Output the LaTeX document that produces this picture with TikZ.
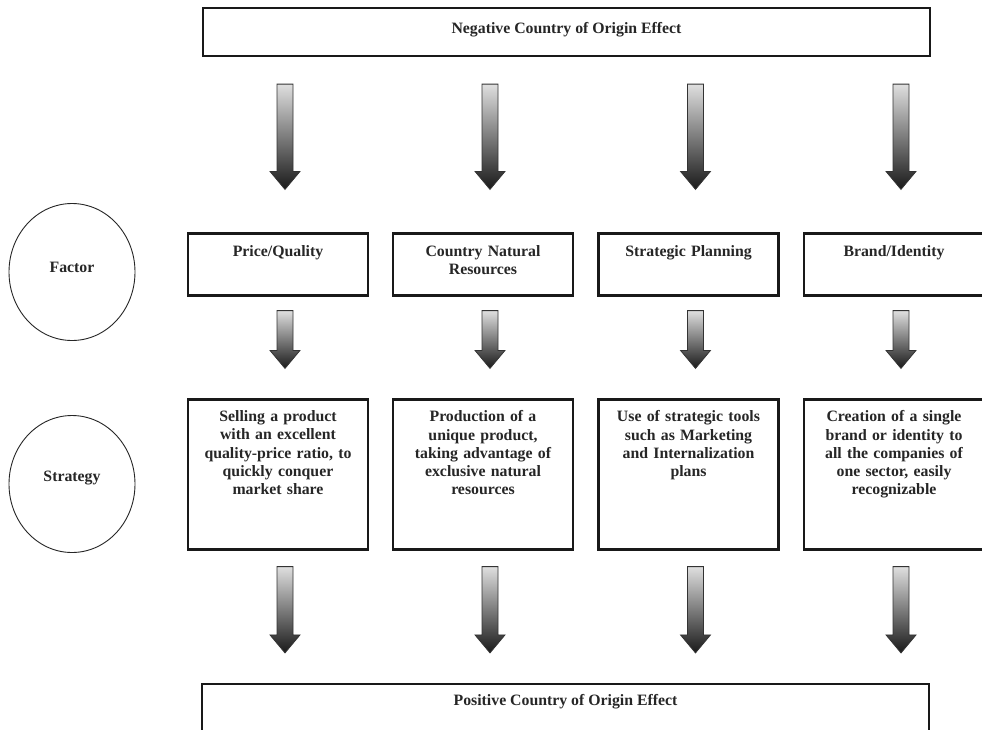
\documentclass[tikz,border=0pt]{standalone}
\usepackage{fontspec}
\setmainfont{Liberation Serif}
\usetikzlibrary{calc,shapes.geometric}
\tikzset{
  frame/.style={draw=black!90, line width=2.2pt, fill=white, inner sep=0pt, rectangle},
  widebox/.style={frame, minimum width=727pt, minimum height=48pt},
  factorbox/.style={frame, minimum width=180pt, minimum height=62pt},
  stratbox/.style={frame, minimum width=180pt, minimum height=150pt},
  lbl/.style={font=\bfseries\fontsize{15.8}{18.3}\selectfont, text=black!85, inner sep=0pt, align=center},
  boxtext/.style={lbl, anchor=north, text width=172pt},
  rowcircle/.style={draw=black!85, line width=0.9pt, ellipse, minimum width=126pt, minimum height=137pt, inner sep=0pt},
  fatarrow/.style={shade, top color=gray!25, bottom color=black!90, draw=black!80, line width=0.8pt}
}
\newcommand\bigarrow[2]{%
  \path let \p1=#1, \p2=#2 in [fatarrow]
    (\x1-8pt,\y1) -- (\x1+8pt,\y1) -- (\x1+8pt,\y2+18pt) -- (\x1+15pt,\y2+18pt)
    -- (\x1,\y2) -- (\x1-15pt,\y2+18pt) -- (\x1-8pt,\y2+18pt) -- cycle;}
\begin{document}
\begin{tikzpicture}[x=1pt,y=-1pt]
\useasboundingbox (0,0) rectangle (982,729);
\clip (0,0) rectangle (982,729);
\fill[white] (0,0) rectangle (982,729);

% top and bottom boxes
\node[widebox] (neg) at (566.5,32) {};
\node[lbl] (negt) at (566.5,30) {Negative Country of Origin Effect};
\node[widebox] (pos) at (565.5,708) {};
\node[lbl] (post) at (565.5,702) {Positive Country of Origin Effect};

% row circles
\node[rowcircle] (fc) at (72,272) {};
\node[lbl] (fct) at (72,267) {Factor};
\node[rowcircle] (sc) at (72,484) {};
\node[lbl] (sct) at (72,478) {Strategy};

% factor boxes
\node[factorbox] (f1) at (278,264.5) {};
\node[factorbox] (f2) at (483,264.5) {};
\node[factorbox] (f3) at (688.5,264.5) {};
\node[factorbox] (f4) at (894,264.5) {};
\node[boxtext] (f1t) at ($(f1.north)+(0,13)$) {Price/Quality};
\node[boxtext] (f2t) at ($(f2.north)+(0,13)$) {Country Natural\\Resources};
\node[boxtext] (f3t) at ($(f3.north)+(0,13)$) {Strategic Planning};
\node[boxtext] (f4t) at ($(f4.north)+(0,13)$) {Brand/Identity};

% strategy boxes
\node[stratbox] (s1) at (278,474.5) {};
\node[stratbox] (s2) at (483,474.5) {};
\node[stratbox] (s3) at (688.5,474.5) {};
\node[stratbox] (s4) at (894,474.5) {};
\node[boxtext] (s1t) at ($(s1.north)+(0,12)$) {Selling a product\\with an excellent\\quality-price ratio, to\\quickly conquer\\market share};
\node[boxtext] (s2t) at ($(s2.north)+(0,12)$) {Production of a\\unique product,\\taking advantage of\\exclusive natural\\resources};
\node[boxtext] (s3t) at ($(s3.north)+(0,12)$) {Use of strategic tools\\such as Marketing\\and Internalization\\plans};
\node[boxtext] (s4t) at ($(s4.north)+(0,12)$) {Creation of a single\\brand or identity to\\all the companies of\\one sector, easily\\recognizable};

% arrows: negative effect -> factors
\bigarrow{($(neg.south -| f1.north)+(7,27)$)}{($(f1.north)+(7,-43)$)}
\bigarrow{($(neg.south -| f2.north)+(7,27)$)}{($(f2.north)+(7,-43)$)}
\bigarrow{($(neg.south -| f3.north)+(7,27)$)}{($(f3.north)+(7,-43)$)}
\bigarrow{($(neg.south -| f4.north)+(7,27)$)}{($(f4.north)+(7,-43)$)}
% factors -> strategies
\bigarrow{($(f1.south)+(7,14)$)}{($(s1.north)+(7,-30)$)}
\bigarrow{($(f2.south)+(7,14)$)}{($(s2.north)+(7,-30)$)}
\bigarrow{($(f3.south)+(7,14)$)}{($(s3.north)+(7,-30)$)}
\bigarrow{($(f4.south)+(7,14)$)}{($(s4.north)+(7,-30)$)}
% strategies -> positive effect
\bigarrow{($(s1.south)+(7,16)$)}{($(pos.north -| s1.south)+(7,-30)$)}
\bigarrow{($(s2.south)+(7,16)$)}{($(pos.north -| s2.south)+(7,-30)$)}
\bigarrow{($(s3.south)+(7,16)$)}{($(pos.north -| s3.south)+(7,-30)$)}
\bigarrow{($(s4.south)+(7,16)$)}{($(pos.north -| s4.south)+(7,-30)$)}
\end{tikzpicture}
\end{document}
